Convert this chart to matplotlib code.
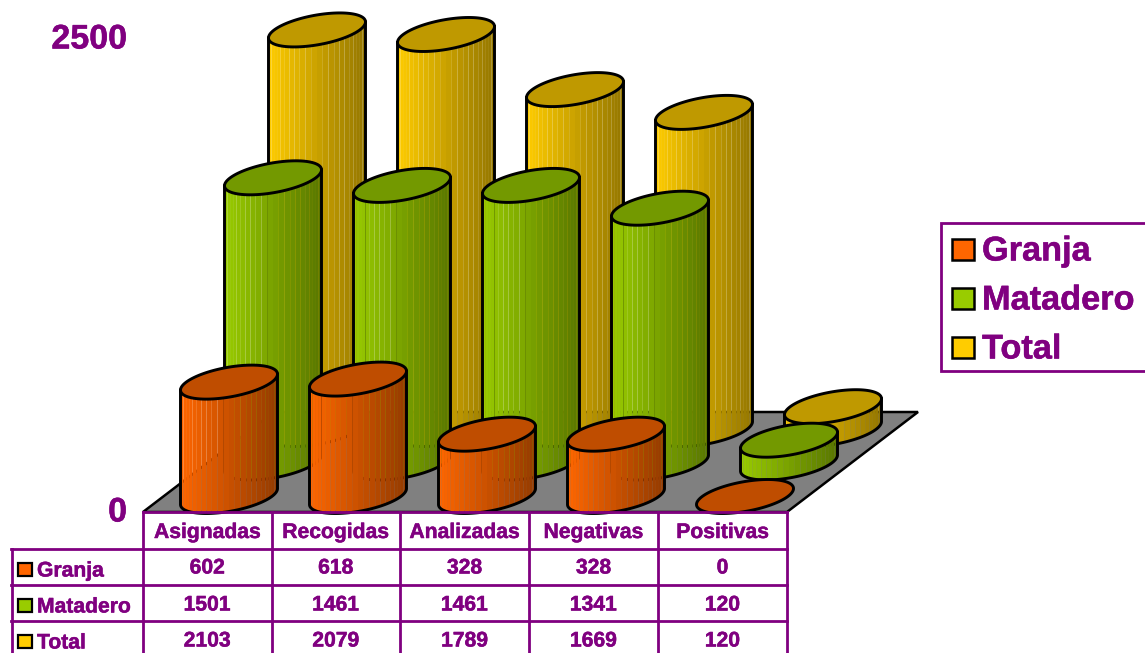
import numpy as np
import matplotlib
matplotlib.use("Agg")
import matplotlib.pyplot as plt
import matplotlib.patheffects as pe
from matplotlib.patches import Polygon, Rectangle

plt.rcParams['font.family'] = ['Liberation Sans', 'DejaVu Sans']

categorias = ["Asignadas", "Recogidas", "Analizadas", "Negativas", "Positivas"]
series = ["Granja", "Matadero", "Total"]
granja = [602, 618, 328, 328, 0]
matadero = [1501, 1461, 1461, 1341, 120]
total = [2103, 2079, 1789, 1669, 120]
eje_labels = ["2500", "0"]
eje_values = [2500, 0]

colores = ["#FF6600", "#99CC00", "#FFCC00"]
purpura = "#800080"

# proyeccion falsa 3D, todo en pixeles de la imagen
ESCALA = 0.19
X0, DX_CAT, DX_SER = 229, 129, 44
Y0, DY_SER = 496.5, 33.5
RX, RY, CIZALLA = 48.5, 15, 8

grueso = [pe.withStroke(linewidth=0.35, foreground=purpura)]


def oscurecer(color, f):
    r, g, b = matplotlib.colors.to_rgb(color)
    return (r * f, g * f, b * f)


def arco(cx, cy, t):
    return cx + RX * np.cos(t), cy - CIZALLA * np.cos(t) + RY * np.sin(t)


def cilindro(ax, i, s, valor, color, z):
    cx = X0 + i * DX_CAT + s * DX_SER
    base = Y0 - s * DY_SER
    arriba = base - valor * ESCALA
    if valor > 0:
        n = 26
        # tiras verticales para el degradado
        ts = np.linspace(np.pi, 0, n * 3 + 1)
        for k in range(n):
            t = ts[k * 3:(k + 1) * 3 + 1]
            x1, y1 = arco(cx, arriba, t)
            x2, y2 = arco(cx, base, t)
            pts = np.column_stack([np.r_[x1, x2[::-1]], np.r_[y1, y2[::-1]]])
            frac = (x1.mean() - (cx - RX)) / (2 * RX)
            ax.add_patch(Polygon(pts, closed=True, fc=oscurecer(color, 1 - 0.42 * frac),
                                 ec="none", lw=0, zorder=z))
        t = np.linspace(np.pi, 0, 80)
        x2, y2 = arco(cx, base, t)
        xl, yl = arco(cx, arriba, np.array([np.pi, 0.0]))
        ax.plot(np.r_[xl[0], x2, xl[1]], np.r_[yl[0], y2, yl[1]], color="black", lw=2.1,
                zorder=z + 0.1, solid_joinstyle="round")
    t = np.linspace(0, 2 * np.pi, 120)
    xc, yc = arco(cx, arriba, t)
    ax.add_patch(Polygon(np.column_stack([xc, yc]), closed=True, fc=oscurecer(color, 0.75),
                         ec="black", lw=2.1, zorder=z + 0.2))


fig = plt.figure(figsize=(11.45, 6.53), dpi=100)
ax = fig.add_axes([0, 0, 1, 1])
ax.set_xlim(0, 1145)
ax.set_ylim(653, 0)
ax.axis("off")

# suelo
suelo = [(143, 512), (787, 512), (918, 412), (274, 412)]
ax.add_patch(Polygon(suelo, closed=True, fc="#808080", ec="black", lw=1.8, zorder=1))

valores = [granja, matadero, total]
for s in [2, 1, 0]:
    for i in range(len(categorias)):
        cilindro(ax, i, s, valores[s][i], colores[s], 10 + (2 - s) * 2)

# eje
for lab, v in zip(eje_labels, eje_values):
    y = 513 - v / 2500 * 473
    ax.text(127, y, lab, ha="right", va="center", fontsize=24.5, fontweight="bold",
            color=purpura, path_effects=grueso)

# tabla
cols = [143, 271.5, 400, 529, 658, 787]
filas = [512, 549, 585, 621]
lw_t = 2.0
ax.plot([143, 787], [512, 512], color=purpura, lw=lw_t, zorder=30)
for y in filas[1:]:
    ax.plot([11, 787], [y, y], color=purpura, lw=lw_t, zorder=30)
for x in cols:
    ax.plot([x, x], [512, 653], color=purpura, lw=lw_t, zorder=30)
ax.plot([11.5, 11.5], [549, 653], color=purpura, lw=lw_t, zorder=30)

for i, c in enumerate(categorias):
    xc = (cols[i] + cols[i + 1]) / 2
    ax.text(xc, 532.5, c, ha="center", va="center", fontsize=15.2, fontweight="bold",
            color=purpura, path_effects=grueso)
    for y, vals in zip([568, 605, 641], valores):
        ax.text(xc, y, str(vals[i]), ha="center", va="center", fontsize=15.2,
                fontweight="bold", color=purpura, path_effects=grueso)

for nombre, col, y in zip(series, colores, [569, 605, 641]):
    ax.add_patch(Rectangle((17.5, y - 6.5), 14, 13.5, fc=col, ec="black", lw=1.6, zorder=31))
    ax.text(37, y + 2, nombre, ha="left", va="center", fontsize=15.2, fontweight="bold",
            color=purpura, path_effects=grueso)

# leyenda
ax.add_patch(Rectangle((940.5, 223), 206, 148, fc="white", ec=purpura, lw=lw_t, zorder=30))
for nombre, col, y in zip(series, colores, [249, 298, 347]):
    ax.add_patch(Rectangle((952, y - 10.5), 21.5, 21, fc=col, ec="black", lw=1.8, zorder=31))
    ax.text(982, y + 3, nombre, ha="left", va="center", fontsize=24.7, fontweight="bold",
            color=purpura, zorder=31, path_effects=grueso)

fig.savefig("out.png", dpi=100)
